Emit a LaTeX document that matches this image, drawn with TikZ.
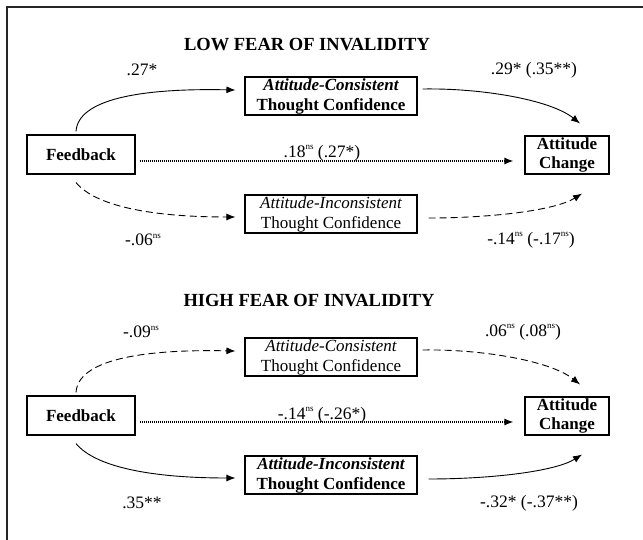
\documentclass[tikz,border=0pt]{standalone}
\usepackage{fontspec}
\setmainfont{Liberation Serif}
\usetikzlibrary{arrows.meta,calc}
\newcommand{\sps}[1]{\raisebox{0.42em}{\fontsize{9}{9}\selectfont #1}}
\begin{document}
\begin{tikzpicture}[x=1pt,y=-1pt,
  box/.style={draw, line width=1.1pt, inner sep=0pt, align=center, font=\fontsize{17}{20}\selectfont},
  fbbox/.style={box, minimum width=108pt, minimum height=39pt},
  midbox/.style={box, minimum width=172pt, minimum height=38pt},
  atbox/.style={box, minimum width=84pt, minimum height=38pt, font=\fontsize{17}{19}\selectfont},
  lbl/.style={font=\fontsize{17.5}{20}\selectfont, inner sep=0pt},
  ttl/.style={font=\fontsize{18.5}{20}\selectfont\bfseries, inner sep=0pt},
  con/.style={line width=0.9pt, -{Latex[length=9pt,width=7pt]}},
  dsh/.style={con, dash pattern=on 7pt off 4pt},
  dotl/.style={line width=1.3pt, dash pattern=on 1pt off 1pt, -{Latex[length=9pt,width=7pt]}}]
\useasboundingbox (0,0) rectangle (643,540);
\draw[line width=1.8pt, draw=black!85] (7,540) -- (7,7) -- (643,7);

% ---------------- LOW ----------------
\node[ttl] (t1) at (307,45) {LOW FEAR OF INVALIDITY};
\node[fbbox] (fbA) at (81,154.5) {\bfseries Feedback};
\node[midbox] (acA) at (331,96) {{\bfseries\itshape Attitude-Consistent}\\ {\bfseries Thought Confidence}};
\node[midbox] (aiA) at (331,214) {{\itshape Attitude-Inconsistent}\\ Thought Confidence};
\node[atbox] (atA) at (567,155) {{\bfseries Attitude}\\ {\bfseries Change}};

\draw[con] ($(fbA.north)+(-5,-3)$) .. controls +(2,-32) and +(-96,-2) .. ($(acA.west)+(-9,-6)$);
\draw[con] ($(acA.east)+(5,-7)$) .. controls +(58,-1) and +(-30,-24) .. ($(atA.north)+(13,-12)$);
\draw[dsh] ($(fbA.south)+(-5,8)$) .. controls +(19,23) and +(-86,0) .. ($(aiA.west)+(-9,3)$);
\draw[dsh] ($(aiA.east)+(11,4)$) .. controls +(62,0) and +(-27,17) .. ($(atA.south)+(15,19)$);
\draw[dotl] ($(fbA.east)+(4,6.5)$) -- ($(atA.west)+(-11,6)$);

\node[lbl] (a1) at (142,70) {.27*};
\node[lbl] (b1) at (534,70) {.29* (.35**)};
\node[lbl] (c1) at (322,153) {.18\sps{ns} (.27*)};
\node[lbl] (d1) at (143,240) {-.06\sps{ns}};
\node[lbl] (e1) at (531,240) {-.14\sps{ns} (-.17\sps{ns})};

% ---------------- HIGH ----------------
\node[ttl] (t2) at (309,301) {HIGH FEAR OF INVALIDITY};
\node[fbbox] (fbB) at (81,415.5) {\bfseries Feedback};
\node[midbox] (acB) at (331,357) {{\itshape Attitude-Consistent}\\ Thought Confidence};
\node[midbox] (aiB) at (331,475) {{\bfseries\itshape Attitude-Inconsistent}\\ {\bfseries Thought Confidence}};
\node[atbox] (atB) at (567,416) {{\bfseries Attitude}\\ {\bfseries Change}};

\draw[dsh] ($(fbB.north)+(-5,-3)$) .. controls +(2,-32) and +(-96,-2) .. ($(acB.west)+(-9,-6)$);
\draw[dsh] ($(acB.east)+(5,-7)$) .. controls +(58,-1) and +(-30,-24) .. ($(atB.north)+(13,-12)$);
\draw[con] ($(fbB.south)+(-5,8)$) .. controls +(19,23) and +(-86,0) .. ($(aiB.west)+(-9,3)$);
\draw[con] ($(aiB.east)+(11,4)$) .. controls +(62,0) and +(-27,17) .. ($(atB.south)+(15,19)$);
\draw[dotl] ($(fbB.east)+(4,6.5)$) -- ($(atB.west)+(-11,6)$);

\node[lbl] (a2) at (141,332) {-.09\sps{ns}};
\node[lbl] (b2) at (523,332) {.06\sps{ns} (.08\sps{ns})};
\node[lbl] (c2) at (322,415) {-.14\sps{ns} (-.26*)};
\node[lbl] (d2) at (142,503) {.35**};
\node[lbl] (e2) at (529,503) {-.32* (-.37**)};
\end{tikzpicture}
\end{document}
